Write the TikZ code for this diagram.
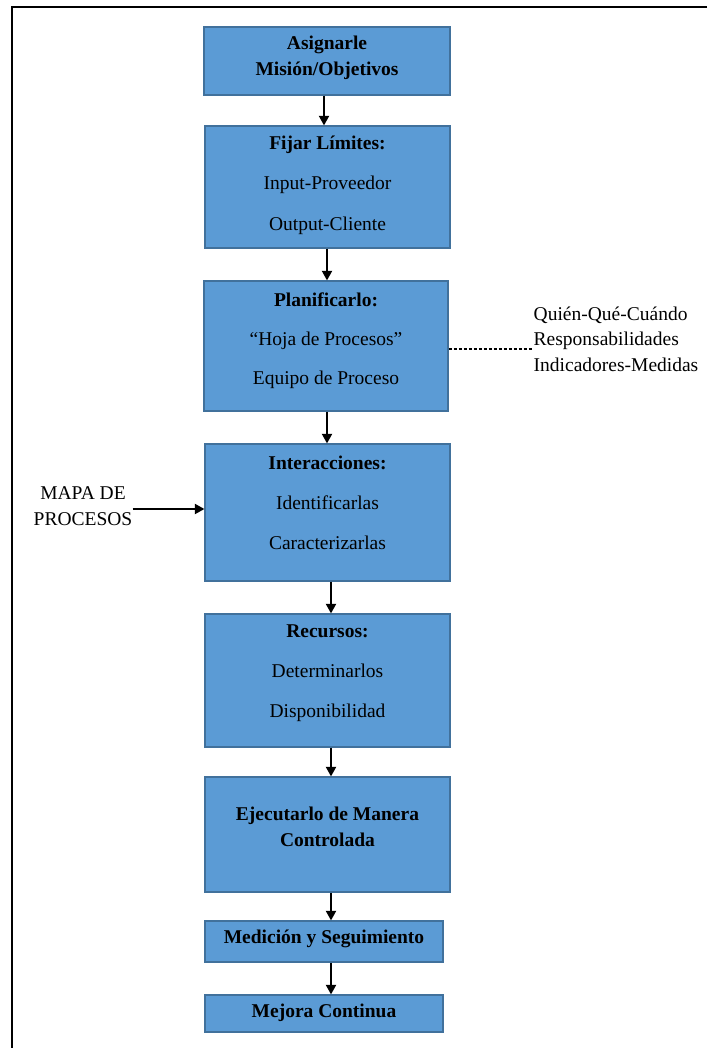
\documentclass[tikz,border=0pt]{standalone}
\usepackage{fontspec}
\setmainfont{Liberation Serif}
\usetikzlibrary{arrows.meta}
\definecolor{boxfill}{HTML}{5B9BD5}
\definecolor{boxline}{HTML}{41719C}
\begin{document}
\begin{tikzpicture}[x=1pt, y=-1pt,
  box/.style={draw=boxline, fill=boxfill, line width=1.2pt, inner sep=0pt},
  txt/.style={align=center, inner sep=0pt, font=\fontsize{19.5}{26}\selectfont},
  side/.style={inner sep=0pt, font=\fontsize{19.5}{25.5}\selectfont},
  arr/.style={line width=1.8pt, -{Triangle[length=9.5pt, width=10pt]}}]
\useasboundingbox (0,0) rectangle (707,1048);

% outer frame (left and top edges)
\draw[line width=2pt] (707,7.5) -- (11.5,7.5) -- (11.5,1048);

% process boxes
\node[box, minimum width=246pt, minimum height=68pt]  (b1) at (327,61)    {};
\node[box, minimum width=245pt, minimum height=122pt] (b2) at (327.5,187) {};
\node[box, minimum width=244pt, minimum height=130pt] (b3) at (326,346)   {};
\node[box, minimum width=245pt, minimum height=137pt] (b4) at (327.5,512.5) {};
\node[box, minimum width=245pt, minimum height=133pt] (b5) at (327.5,680.5) {};
\node[box, minimum width=245pt, minimum height=115pt] (b6) at (327.5,834.5) {};
\node[box, minimum width=238pt, minimum height=41pt]  (b7) at (324,941.5) {};
\node[box, minimum width=238pt, minimum height=37pt]  (b8) at (324,1013.5) {};

% box texts
\node[txt] (t1) at (327,58) {\bfseries Asignarle\\\bfseries Misión/Objetivos};
\node[txt] (t2) at (327.5,185) {\bfseries Fijar Límites:\\[14.5pt]Input-Proveedor\\[14.5pt]Output-Cliente};
\node[txt] (t3) at (326,341) {\bfseries Planificarlo:\\[13pt]“Hoja de Procesos”\\[13pt]Equipo de Proceso};
\node[txt] (t4) at (327.5,503) {\bfseries Interacciones:\\[14pt]Identificarlas\\[14pt]Caracterizarlas};
\node[txt] (t5) at (327.5,673) {\bfseries Recursos:\\[14pt]Determinarlos\\[14pt]Disponibilidad};
\node[txt] (t6) at (327.5,826.5) {\bfseries Ejecutarlo de Manera\\\bfseries Controlada};
\node[txt] (t7) at (324,939) {\bfseries Medición y Seguimiento};
\node[txt] (t8) at (324,1013) {\bfseries Mejora Continua};

% side notes
\node[side, anchor=west, align=left] (r) at (533.5,339) {Quién-Qué-Cuándo\\Responsabilidades\\Indicadores-Medidas};
\node[side, align=center] (m) at (83,506) {MAPA DE\\PROCESOS};

% connectors
\draw[arr] ([xshift=-3pt]b1.south) -- ([xshift=-3pt]b1.south |- b2.north);
\draw[arr] ([xshift=-0.5pt]b2.south) -- ([xshift=-0.5pt]b2.south |- b3.north);
\draw[arr] ([xshift=1pt]b3.south) -- ([xshift=1pt]b3.south |- b4.north);
\draw[arr] ([xshift=3.5pt]b4.south) -- ([xshift=3.5pt]b4.south |- b5.north);
\draw[arr] ([xshift=3.5pt]b5.south) -- ([xshift=3.5pt]b5.south |- b6.north);
\draw[arr] ([xshift=3.5pt]b6.south) -- ([xshift=3.5pt]b6.south |- b7.north);
\draw[arr] ([xshift=7pt]b7.south) -- ([xshift=7pt]b7.south |- b8.north);
\draw[arr] ([yshift=-3pt]m.east) -- ([yshift=-3pt]m.east -| b4.west);
\draw[line width=1.1pt, dash pattern=on 3.2pt off 1.8pt] ([yshift=-3pt]b3.east) -- ([yshift=-3pt]b3.east -| r.west);
\end{tikzpicture}
\end{document}
